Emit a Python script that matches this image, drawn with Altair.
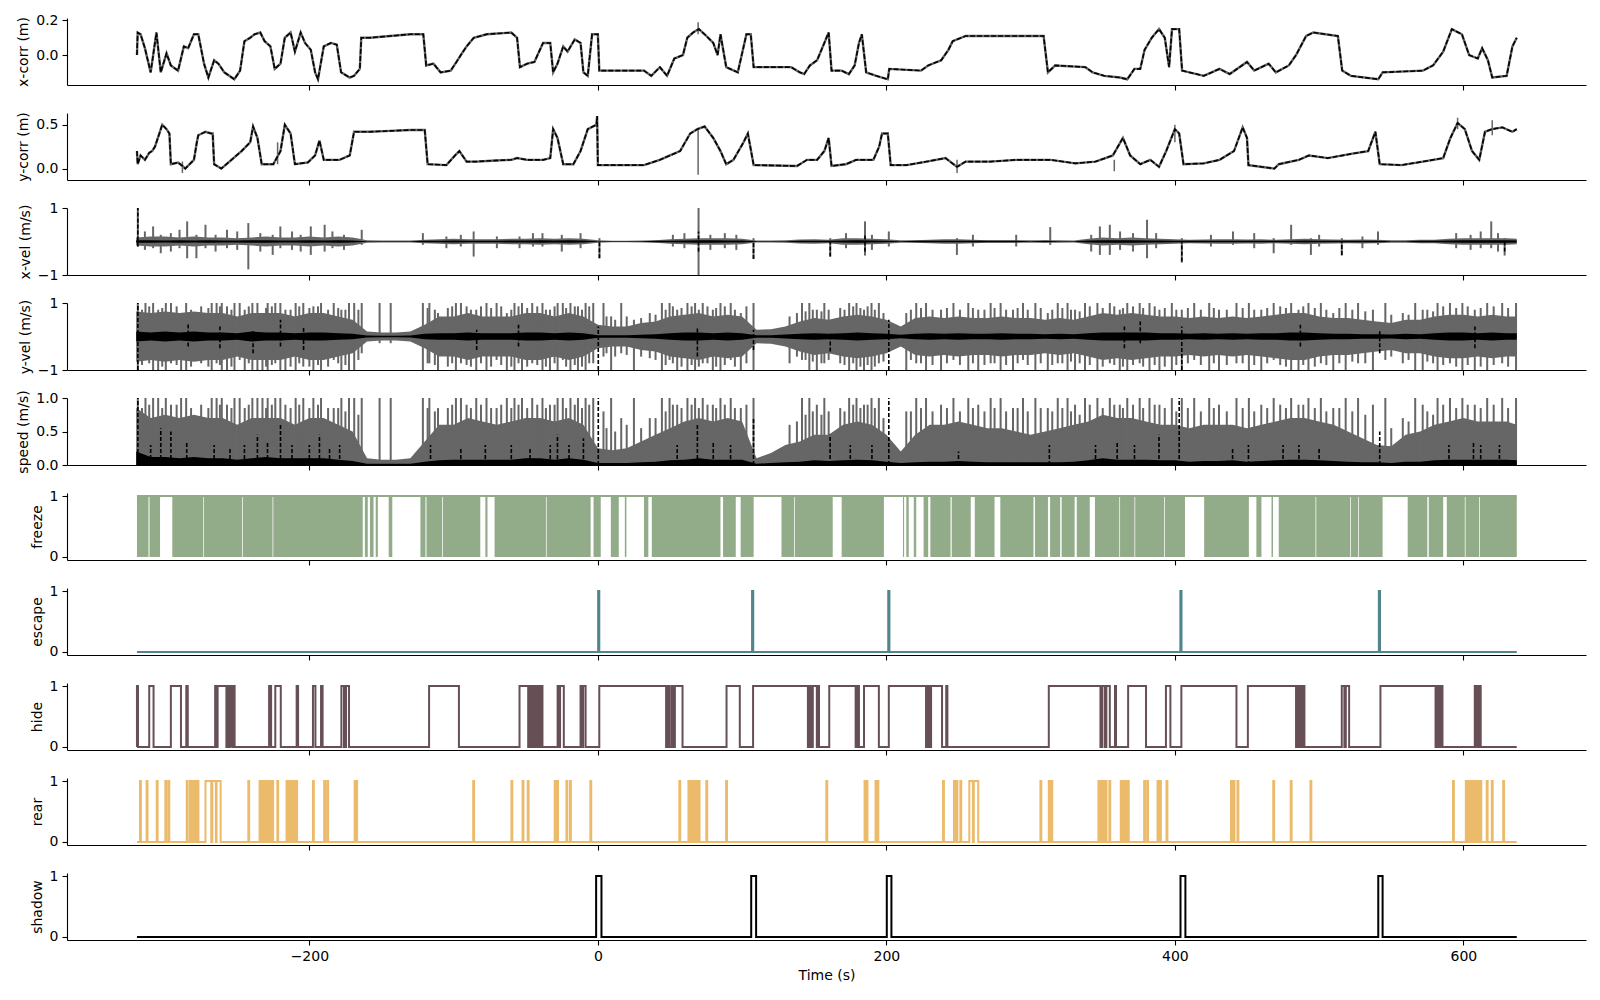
import altair as alt
import pandas as pd

GRAY = "#666666"
GREEN = "#92ab88"
TEAL = "#50868b"
MAUVE = "#665056"
ORANGE = "#ebba6a"

T_START, T_END = -319.5, 637
X_DOMAIN = [-368, 685]
X_TICKS = [-200, 0, 200, 400, 600]
BIN_DOMAIN = [-0.05, 1.05]
W, H = 1519, 67

# x position (m)
XC_T = [-319.5, -319, -317, -314, -310, -306, -303, -299, -296, -291, -287, -284, -280, -277,
        -273, -270, -266, -263, -259, -252, -248, -245, -241, -238, -234, -231, -227, -224,
        -220, -217, -213, -210, -206, -203, -199, -196, -194, -190, -185, -181, -178, -172,
        -169, -165, -164, -158, -144, -130, -121, -119, -114, -109, -102, -98, -95, -91, -86,
        -77, -60, -56, -54, -49, -44, -38, -33, -31, -28, -24, -21, -16, -12, -10, -7, -4, 0,
        1, 11, 32, 37, 43, 48, 53, 59, 62, 66, 70, 74, 80, 83, 85, 89, 97, 103, 106, 108, 134,
        140, 143, 147, 152, 155, 159, 160, 162, 169, 174, 178, 181, 183, 186, 193, 201, 202,
        224, 229, 238, 243, 246, 255, 283, 309, 312, 317, 338, 343, 351, 362, 367, 372, 376,
        379, 384, 389, 393, 396, 398, 403, 405, 420, 431, 438, 450, 455, 465, 470, 479, 484,
        491, 496, 513, 516, 522, 541, 544, 572, 579, 586, 592, 599, 604, 610, 613, 617, 620,
        630, 634, 637]
XC_V = [0.0, 0.13, 0.12, 0.04, -0.1, 0.13, -0.1, 0.01, -0.06, -0.09, 0.05, 0.04, 0.12, 0.12,
        -0.05, -0.13, -0.03, -0.05, -0.1, -0.14, -0.09, 0.08, 0.1, 0.12, 0.13, 0.08, 0.05, -0.08,
        -0.05, 0.1, 0.13, 0.02, 0.13, 0.07, 0.03, -0.1, -0.14, 0.05, 0.07, 0.06, -0.1, -0.13,
        -0.12, -0.08, 0.1, 0.1, 0.11, 0.12, 0.12, -0.06, -0.05, -0.1, -0.09, -0.04, 0.0, 0.05, 0.1,
        0.12, 0.13, 0.1, -0.07, -0.05, -0.04, 0.07, 0.07, -0.1, -0.05, 0.05, 0.02, 0.09, 0.07, -0.1, -0.12, 0.12, 0.12,
        -0.09, -0.09, -0.09, -0.12, -0.07, -0.12, -0.02, 0.0, 0.1, 0.13, 0.15, 0.12, 0.07, 0.0, 0.12, -0.07, -0.1, 0.12, 0.12, -0.07, -0.07,
        -0.1, -0.11, -0.06, -0.03, 0.03, 0.11, 0.13, -0.09, -0.09, -0.11, -0.06, 0.07, 0.12, -0.1, -0.12, -0.14, -0.08,
        -0.09, -0.06, -0.03, 0.03, 0.08, 0.11, 0.11, 0.11, -0.1, -0.06, -0.07, -0.1, -0.12, -0.13, -0.14, -0.08, -0.08,
        0.03, 0.1, 0.15, 0.1, -0.07, 0.15, 0.15, -0.09, -0.12, -0.08, -0.11, -0.04, -0.09, -0.05, -0.1, -0.06, 0.0,
        0.11, 0.13, 0.11, -0.09, -0.12, -0.14, -0.1, -0.09, -0.06, 0.02, 0.15, 0.12, 0.0, -0.02, 0.04, -0.03, -0.13,
        -0.12, 0.05, 0.1]
XC_SPIKES = [(69.5, 0.12, 0.19)]

# y position (m)
YC_T = [-319.5, -319, -317, -314, -311, -309, -307, -305, -303, -302, -299, -297, -296, -291,
        -288, -286, -283, -280, -278, -277, -272, -268, -267, -266, -261, -254, -247, -241,
        -239, -236, -233, -225, -220, -217, -213, -210, -201, -196, -193, -190, -179, -172,
        -169, -158, -144, -130, -120, -118, -105, -99, -96, -91, -84, -74, -60, -56, -49, -38,
        -33, -31, -28, -24, -17, -12, -7, -1, -0.5, 0, 11, 32, 43, 50, 57, 64, 69, 74, 80, 85,
        89, 94, 101, 104, 108, 138, 145, 152, 157, 160, 162, 172, 179, 191, 195, 197, 201, 203,
        214, 228, 241, 249, 255, 272, 290, 300, 314, 331, 345, 357, 364, 369, 376, 383, 389,
        394, 400, 403, 406, 420, 431, 441, 447, 450, 451, 469, 472, 486, 493, 506, 523, 534,
        539, 542, 557, 572, 586, 591, 596, 601, 606, 611, 615, 620, 627, 634, 637]
YC_V = [0.2, 0.05, 0.15, 0.1, 0.18, 0.2, 0.25, 0.35, 0.45, 0.5, 0.45, 0.4, 0.05, 0.07,
        0.03, 0.0, 0.05, 0.1, 0.3, 0.38, 0.42, 0.4, 0.4, 0.05, 0.0, 0.1, 0.2, 0.3,
        0.48, 0.35, 0.05, 0.05, 0.2, 0.5, 0.4, 0.05, 0.07, 0.15, 0.32, 0.1, 0.1, 0.15,
        0.42, 0.42, 0.43, 0.44, 0.44, 0.05, 0.04, 0.15, 0.2, 0.08, 0.08, 0.09, 0.1, 0.12, 0.1, 0.1,
        0.12, 0.45, 0.35, 0.05, 0.05, 0.2, 0.45, 0.5, 0.6, 0.04, 0.04, 0.04, 0.1, 0.15, 0.2, 0.4, 0.45, 0.48, 0.35, 0.2,
        0.05, 0.1, 0.3, 0.4, 0.04, 0.03, 0.1, 0.1, 0.2, 0.35, 0.03, 0.05, 0.1, 0.1, 0.25, 0.4, 0.4, 0.04,
        0.04, 0.08, 0.12, 0.02, 0.08, 0.08, 0.1, 0.1, 0.1, 0.06, 0.08, 0.15, 0.35, 0.15, 0.05, 0.1, 0.02,
        0.2, 0.45, 0.4, 0.05, 0.06, 0.1, 0.2, 0.47, 0.35, 0.04, 0.0, 0.05, 0.1, 0.15, 0.12, 0.17, 0.2,
        0.42, 0.05, 0.04, 0.08, 0.12, 0.35, 0.52, 0.45, 0.2, 0.1, 0.42, 0.45, 0.47, 0.42, 0.45]
YC_SPIKES = [(69.5, -0.07, 0.45), (249, -0.05, 0.1), (-222, 0.05, 0.3), (-288, -0.05, 0.08),
             (358, -0.03, 0.1), (400, 0.3, 0.5), (596, 0.45, 0.58), (620, 0.38, 0.55)]

# velocity / speed envelopes on a 10 s grid
T10 = list(range(-320, 640, 10)) + [637]
XV_GRAY = [0.12, 0.15, 0.15, 0.12, 0.15, 0.12, 0.12, 0.1, 0.12, 0.15, 0.12, 0.12, 0.15, 0.12, 0.15, 0.12,
           0.04, 0.03, 0.03, 0.03,
           0.05, 0.07, 0.08, 0.07, 0.07, 0.07, 0.08, 0.08, 0.1, 0.08, 0.1, 0.08,
           0.04, 0.02, 0.02, 0.03, 0.04,
           0.07, 0.08, 0.1, 0.1, 0.1, 0.08,
           0.03, 0.03, 0.04,
           0.06, 0.07, 0.05, 0.1, 0.1, 0.08, 0.07,
           0.04, 0.04, 0.05, 0.07, 0.07, 0.05, 0.04, 0.04, 0.04, 0.04, 0.04, 0.04, 0.03,
           0.08, 0.12, 0.1, 0.12, 0.1, 0.08, 0.07,
           0.05, 0.06, 0.07, 0.07, 0.06, 0.07, 0.05, 0.07, 0.08, 0.07, 0.06, 0.05, 0.06, 0.05,
           0.04, 0.04, 0.05, 0.05,
           0.08, 0.1, 0.1, 0.1, 0.1,
           0.08]
XV_BLACK = [0.04, 0.04, 0.03, 0.04, 0.03, 0.04, 0.03, 0.03, 0.04, 0.04, 0.03, 0.03, 0.04, 0.03, 0.04, 0.03,
            0.01, 0.01, 0.01, 0.01,
            0.02, 0.02, 0.03, 0.02, 0.02, 0.02, 0.03, 0.03, 0.04, 0.03, 0.04, 0.03,
            0.01, 0.01, 0.01, 0.01, 0.02,
            0.02, 0.03, 0.04, 0.04, 0.03, 0.03,
            0.01, 0.01, 0.01,
            0.02, 0.02, 0.02, 0.03, 0.04, 0.03, 0.02,
            0.01, 0.02, 0.02, 0.02, 0.02, 0.02, 0.02, 0.02, 0.02, 0.01, 0.02, 0.01, 0.01,
            0.03, 0.04, 0.04, 0.04, 0.03, 0.03, 0.02,
            0.02, 0.02, 0.02, 0.02, 0.02, 0.02, 0.02, 0.02, 0.03, 0.02, 0.02, 0.02, 0.02, 0.02,
            0.01, 0.01, 0.02, 0.02,
            0.03, 0.04, 0.04, 0.04, 0.04,
            0.03]
YV_GRAY = [0.75, 0.7, 0.75, 0.7, 0.75, 0.7, 0.7, 0.6, 0.7, 0.7, 0.7, 0.6, 0.7, 0.7, 0.6, 0.5,
           0.15, 0.12, 0.12, 0.15,
           0.35, 0.6, 0.6, 0.7, 0.6, 0.6, 0.6, 0.7, 0.7, 0.6, 0.7, 0.6,
           0.35, 0.3, 0.3, 0.4, 0.45,
           0.6, 0.65, 0.7, 0.6, 0.65, 0.6,
           0.2, 0.22, 0.3,
           0.45, 0.55, 0.5, 0.6, 0.65, 0.6, 0.5,
           0.3, 0.55, 0.6, 0.55, 0.6, 0.55, 0.55, 0.6, 0.55, 0.55, 0.5, 0.55, 0.5,
           0.6, 0.7, 0.65, 0.7, 0.65, 0.6, 0.6,
           0.55, 0.6, 0.55, 0.6, 0.55, 0.6, 0.65, 0.7, 0.7, 0.6, 0.55, 0.55, 0.5, 0.45,
           0.4, 0.5, 0.5, 0.6,
           0.65, 0.65, 0.6, 0.65, 0.6,
           0.6]
YV_BLACK = [0.15, 0.12, 0.15, 0.12, 0.15, 0.12, 0.12, 0.1, 0.15, 0.12, 0.12, 0.1, 0.12, 0.12, 0.1, 0.08,
            0.03, 0.02, 0.02, 0.03,
            0.08, 0.1, 0.1, 0.12, 0.1, 0.1, 0.1, 0.12, 0.12, 0.1, 0.12, 0.1,
            0.04, 0.04, 0.04, 0.05, 0.07,
            0.1, 0.12, 0.12, 0.1, 0.12, 0.1,
            0.04, 0.04, 0.06,
            0.08, 0.1, 0.08, 0.1, 0.12, 0.1, 0.08,
            0.05, 0.08, 0.1, 0.08, 0.1, 0.08, 0.08, 0.1, 0.08, 0.08, 0.07, 0.08, 0.07,
            0.1, 0.12, 0.12, 0.12, 0.12, 0.1, 0.1,
            0.08, 0.1, 0.08, 0.1, 0.08, 0.1, 0.1, 0.12, 0.12, 0.1, 0.08, 0.08, 0.07, 0.07,
            0.06, 0.08, 0.07, 0.1,
            0.12, 0.12, 0.1, 0.12, 0.1,
            0.1]
SP_GRAY = [0.85, 0.7, 0.75, 0.7, 0.75, 0.7, 0.7, 0.6, 0.7, 0.7, 0.7, 0.6, 0.7, 0.7, 0.6, 0.5,
           0.1, 0.08, 0.08, 0.1,
           0.35, 0.6, 0.6, 0.7, 0.65, 0.6, 0.65, 0.7, 0.7, 0.65, 0.7, 0.6,
           0.25, 0.22, 0.25, 0.35, 0.45,
           0.55, 0.65, 0.7, 0.65, 0.7, 0.65,
           0.1, 0.18, 0.3,
           0.35, 0.45, 0.45, 0.6, 0.65, 0.6, 0.45,
           0.2, 0.45, 0.6, 0.6, 0.65, 0.6, 0.55, 0.55, 0.5, 0.45, 0.5, 0.55, 0.6,
           0.65, 0.75, 0.7, 0.7, 0.65, 0.6, 0.6,
           0.55, 0.6, 0.6, 0.6, 0.55, 0.6, 0.65, 0.7, 0.7, 0.65, 0.6, 0.5, 0.4, 0.3,
           0.28, 0.45, 0.5, 0.6,
           0.65, 0.7, 0.65, 0.65, 0.65,
           0.6]
SP_BLACK = [0.2, 0.12, 0.12, 0.1, 0.12, 0.1, 0.1, 0.08, 0.1, 0.12, 0.1, 0.1, 0.1, 0.1, 0.08, 0.06,
            0.02, 0.02, 0.02, 0.02,
            0.05, 0.07, 0.08, 0.08, 0.08, 0.08, 0.08, 0.1, 0.1, 0.08, 0.1, 0.08,
            0.03, 0.03, 0.03, 0.04, 0.05,
            0.07, 0.08, 0.1, 0.08, 0.08, 0.08,
            0.02, 0.03, 0.04,
            0.05, 0.07, 0.06, 0.07, 0.08, 0.07, 0.05,
            0.03, 0.04, 0.05, 0.05, 0.06, 0.05, 0.04, 0.04, 0.04, 0.04, 0.04, 0.04, 0.05,
            0.07, 0.1, 0.08, 0.08, 0.08, 0.07, 0.07,
            0.05, 0.06, 0.06, 0.07, 0.05, 0.06, 0.07, 0.08, 0.08, 0.07, 0.06, 0.05, 0.04, 0.04,
            0.03, 0.05, 0.05, 0.07,
            0.08, 0.08, 0.08, 0.08, 0.08,
            0.07]

# single large excursions (t, low, high)
XV_SPIKES = [(-318.9, -0.15, 1.0), (-308.3, -0.2, 0.45), (-303, -0.35, 0.2), (-284.7, -0.5, 0.6),
             (-278.3, -0.5, 0.2), (-272, -0.2, 0.5), (-257.1, -0.2, 0.35), (-242.3, -0.83, 0.55),
             (-225.4, -0.4, 0.2), (-220.1, -0.2, 0.45), (-199, -0.4, 0.45), (-189.4, -0.3, 0.5),
             (-163.7, -0.1, 0.35), (-121.3, -0.1, 0.25), (-86.1, -0.45, 0.3), (-54.3, -0.2, 0.15),
             (-38.4, -0.15, 0.25), (1.1, -0.5, 0.1), (69.8, -1.0, 1.0), (107.9, -0.52, 0.1),
             (161.1, -0.45, 0.1), (185.2, -0.42, 0.6), (201.7, -0.15, 0.3), (248.9, -0.4, 0.1),
             (313.6, -0.1, 0.43), (348, -0.4, 0.45), (354.9, -0.4, 0.5), (380.7, -0.5, 0.65),
             (404.8, -0.63, 0.1), (440.3, -0.1, 0.3), (468.5, -0.35, 0.1), (480.6, -0.1, 0.5),
             (494.3, -0.4, 0.1), (515.7, -0.42, 0.1), (540.8, -0.1, 0.3), (619.3, -0.2, 0.6),
             (628.6, -0.42, 0.1),
             (-314, -0.25, 0.3), (-296, -0.3, 0.25), (-290, -0.2, 0.35), (-265, -0.3, 0.2),
             (-250, -0.25, 0.3), (-234, -0.3, 0.25), (-212, -0.25, 0.3), (-206, -0.3, 0.2),
             (-184, -0.2, 0.3), (-176, -0.25, 0.2), (-105, -0.2, 0.15), (-95, -0.15, 0.2),
             (-70, -0.2, 0.15), (-45, -0.15, 0.25), (-25, -0.3, 0.2), (-12, -0.2, 0.25),
             (52, -0.15, 0.2), (60, -0.2, 0.25), (78, -0.25, 0.2), (88, -0.2, 0.25), (96, -0.25, 0.2),
             (172, -0.2, 0.25), (190, -0.25, 0.2), (260, -0.15, 0.2), (290, -0.15, 0.2),
             (342, -0.3, 0.2), (362, -0.25, 0.3), (371, -0.3, 0.25), (387, -0.2, 0.25),
             (425, -0.15, 0.2), (455, -0.2, 0.25), (500, -0.15, 0.2), (530, -0.2, 0.15),
             (595, -0.2, 0.25), (605, -0.25, 0.2), (612, -0.2, 0.3), (624, -0.3, 0.25)]
XV_BLACK_SPIKES = [(-318.9, -0.15, 1.0), (1.1, -0.5, 0.0), (69.8, -0.3, 0.3), (107.9, -0.52, 0.0),
                   (161.1, -0.45, 0.0), (185.2, -0.3, 0.2), (404.8, -0.6, 0.0), (515.7, -0.4, 0.0),
                   (628.6, -0.3, 0.0)]
YV_SPIKES = [(-318.9, -1, 1), (-313.6, -0.7, 1), (-308.3, -1, 1), (-304.8, -1, 0.8), (-299.5, -1, 1),
             (-295.9, -0.8, 1), (-288.9, -1, 0.7), (-285.4, -1, 1), (-267.7, -1, 1), (-264.3, -0.8, 1),
             (-260.7, -1, 1), (-257.1, -1, 0.9), (-251.9, -1, 1), (-248.3, -0.7, 1), (-244.8, -1, 0.8),
             (-239.5, -1, 1), (-236, -1, 1), (-232.5, -1, 0.7), (-228.9, -1, 1), (-223.6, -0.8, 1),
             (-220.1, -1, 1), (-216.6, -1, 0.8), (-209.5, -1, 1), (-204.2, -0.9, 1), (-197.2, -1, 0.9),
             (-191.9, -1, 1), (-183.1, -0.7, 1), (-177.8, -1, 0.8), (-172.5, -1, 1), (-168.9, -1, 1),
             (-163.7, -0.5, 1), (-151.3, -0.2, 1), (-143.6, -0.2, 1), (-121.3, -1, 1), (-116.8, -0.8, 1),
             (-110.8, -1, 0.7), (-98.4, -1, 1), (-94.9, -0.8, 1), (-84.3, -1, 0.8), (-77.2, -1, 1),
             (-70.2, -0.7, 1), (-63.1, -1, 0.7), (-57.8, -1, 1), (-52.6, -1, 1), (-45.5, -0.8, 1),
             (-38.4, -1, 1), (-33.2, -1, 0.8), (-27.9, -1, 1), (-24.3, -0.7, 1), (-19, -1, 1),
             (-13.8, -1, 0.9), (-8.5, -1, 1), (-3.2, -0.8, 1), (3.9, -0.6, 1), (9.2, -1, 0.6),
             (16.2, -0.5, 1), (25, -1, 0.5), (44.4, -1, 1), (49.7, -0.7, 1), (55, -1, 0.8),
             (62.1, -1, 1), (67.4, -1, 1), (72.7, -0.8, 1), (79.7, -1, 0.8), (85, -1, 1),
             (92.1, -0.7, 1), (99.1, -1, 0.7), (107.9, -1, 1),
             (132.9, -0.8, 0.6), (141.5, -0.7, 1), (146.6, -1, 1), (151.8, -1, 0.8), (157, -0.8, 1),
             (174.2, -1, 1), (179.3, -1, 1), (184.5, -1, 0.8), (189.7, -1, 1), (194.8, -0.8, 1),
             (213.8, -1, 0.7), (220.7, -0.8, 1), (227.5, -1, 1), (237.9, -1, 0.8), (246.5, -0.7, 1),
             (256.8, -1, 1), (263.7, -1, 0.8), (272.3, -0.8, 1), (279.2, -1, 1), (287.8, -1, 0.8),
             (294.7, -0.7, 1), (303.3, -1, 1), (311.9, -1, 0.7), (318.8, -0.8, 1), (325.6, -1, 1),
             (330.8, -1, 0.8), (337.7, -1, 1), (346.3, -1, 1), (354.9, -0.8, 1), (361.8, -1, 0.8),
             (367, -1, 1), (375.6, -0.8, 1), (382.4, -1, 1), (389.3, -1, 0.8), (397.9, -1, 1),
             (404.8, -1, 0.8), (413.4, -0.7, 1), (423.8, -1, 1), (430.6, -1, 0.8), (442.7, -0.8, 1),
             (451.3, -1, 1), (459.9, -1, 0.8), (468.5, -0.7, 1), (480.6, -1, 1), (485.7, -1, 0.8),
             (492.6, -1, 1), (501.2, -0.8, 1), (509.8, -1, 0.7), (518.4, -1, 1), (527, -0.8, 1),
             (537.3, -1, 0.8), (545.9, -0.7, 1), (558, -0.8, 0.7), (566.6, -1, 1), (571.8, -1, 0.8),
             (582.1, -1, 1), (590.7, -0.8, 1), (599.3, -1, 1), (607.9, -1, 0.8), (616.5, -1, 1),
             (626.9, -0.8, 1), (636.5, -1, 1)]
# medium excursions between the large ones
YV_MID = [(-316, -0.85, 0.8), (-311, -0.8, 0.9), (-302, -0.9, 0.85), (-292, -0.85, 0.9),
          (-282, -0.9, 0.8), (-275, -0.8, 0.9), (-270, -0.9, 0.85), (-262, -0.85, 0.9),
          (-254, -0.9, 0.8), (-242, -0.8, 0.9), (-230, -0.9, 0.85), (-226, -0.85, 0.9),
          (-213, -0.9, 0.8), (-207, -0.8, 0.9), (-200, -0.9, 0.85), (-194, -0.85, 0.9),
          (-187, -0.9, 0.8), (-180, -0.8, 0.85), (-175, -0.85, 0.8), (-166, -0.7, 0.8),
          (-118, -0.8, 0.85), (-113, -0.85, 0.8), (-104, -0.9, 0.85), (-101, -0.8, 0.9),
          (-91, -0.85, 0.9), (-88, -0.9, 0.8), (-81, -0.8, 0.9), (-74, -0.9, 0.85),
          (-67, -0.85, 0.9), (-60, -0.9, 0.8), (-55, -0.8, 0.9), (-49, -0.9, 0.85),
          (-42, -0.85, 0.9), (-36, -0.9, 0.8), (-30, -0.8, 0.9), (-22, -0.9, 0.85),
          (-16, -0.85, 0.9), (-11, -0.9, 0.8), (-6, -0.8, 0.9), (6, -0.5, 0.6), (12, -0.6, 0.5),
          (20, -0.55, 0.6), (30, -0.6, 0.55), (36, -0.65, 0.7), (40, -0.7, 0.65), (47, -0.85, 0.8),
          (52, -0.8, 0.9), (58, -0.9, 0.85), (65, -0.85, 0.9), (70, -0.9, 0.8), (76, -0.8, 0.9),
          (82, -0.9, 0.85), (88, -0.85, 0.9), (95, -0.9, 0.8), (103, -0.8, 0.9),
          (138, -0.6, 0.7), (144, -0.7, 0.75), (149, -0.75, 0.8), (155, -0.8, 0.75),
          (160, -0.7, 0.8), (168, -0.8, 0.85), (171, -0.85, 0.8), (177, -0.8, 0.9),
          (182, -0.9, 0.85), (187, -0.85, 0.9), (192, -0.9, 0.8), (198, -0.75, 0.7),
          (217, -0.7, 0.8), (224, -0.8, 0.85), (232, -0.85, 0.8), (242, -0.8, 0.85),
          (251, -0.85, 0.8), (260, -0.8, 0.85), (268, -0.85, 0.8), (275, -0.8, 0.85),
          (283, -0.85, 0.8), (291, -0.8, 0.85), (298, -0.85, 0.8), (307, -0.8, 0.85),
          (315, -0.85, 0.8), (322, -0.8, 0.85), (328, -0.75, 0.8), (334, -0.8, 0.75),
          (341, -0.85, 0.9), (350, -0.9, 0.85), (358, -0.85, 0.9), (364, -0.9, 0.85),
          (371, -0.85, 0.9), (378, -0.9, 0.85), (386, -0.85, 0.9), (393, -0.9, 0.85),
          (401, -0.85, 0.8), (409, -0.8, 0.85), (418, -0.85, 0.8), (427, -0.8, 0.85),
          (436, -0.85, 0.8), (447, -0.8, 0.85), (455, -0.85, 0.8), (464, -0.8, 0.85),
          (473, -0.85, 0.9), (477, -0.9, 0.85), (489, -0.85, 0.9), (497, -0.9, 0.85),
          (505, -0.85, 0.8), (514, -0.8, 0.85), (523, -0.75, 0.8), (532, -0.8, 0.75),
          (550, -0.6, 0.65), (562, -0.7, 0.65), (575, -0.75, 0.8), (579, -0.8, 0.75),
          (586, -0.85, 0.9), (595, -0.9, 0.85), (603, -0.85, 0.9), (612, -0.9, 0.85),
          (621, -0.85, 0.9), (631, -0.9, 0.85)]
YV_BLACK_SPIKES = [(-318.9, -1, 1), (-284, -0.3, 0.4), (-239, -0.5, 0.2), (-220, -0.3, 0.5),
                   (-262, -0.35, 0.3), (-204, -0.4, 0.3), (-84, -0.4, 0.2), (-55, -0.3, 0.35),
                   (0.3, -1, 0.3), (69, -0.6, 0.3), (107.9, -0.4, 0.2), (161.1, -0.45, 0.1),
                   (201.7, -1, 0.5), (376, -0.2, 0.45), (404.8, -1, 0.3), (542, -0.5, 0.2),
                   (365, -0.35, 0.3), (487, -0.3, 0.35), (608, -0.35, 0.3)]
SP_SPIKES = [(-318.9, 1), (-313.6, 1), (-308.3, 1), (-304.8, 1), (-299.5, 1), (-295.9, 0.9),
             (-288.9, 1), (-285.4, 1), (-267.7, 1), (-264.3, 1), (-260.7, 1), (-257.1, 0.9),
             (-251.9, 1), (-248.3, 1), (-244.8, 0.85), (-239.5, 1), (-236, 1), (-232.5, 1),
             (-228.9, 1), (-223.6, 1), (-220.1, 1), (-216.6, 0.9), (-209.5, 1), (-204.2, 1),
             (-197.2, 1), (-191.9, 1), (-183.1, 0.85), (-177.8, 1), (-172.5, 1), (-168.9, 1),
             (-163.7, 1), (-151.3, 1), (-143.6, 1), (-121.3, 1), (-116.8, 1), (-110.8, 0.85),
             (-98.4, 1), (-94.9, 1), (-84.3, 1), (-77.2, 1), (-70.2, 0.85), (-63.1, 1),
             (-57.8, 1), (-52.6, 1), (-45.5, 1), (-38.4, 1), (-33.2, 0.9), (-27.9, 1),
             (-24.3, 1), (-19, 1), (-13.8, 1), (-8.5, 1), (-3.2, 1), (3.9, 0.8),
             (9.2, 1), (16.2, 0.7), (25, 1), (44.4, 1), (49.7, 1), (55, 0.9),
             (62.1, 1), (67.4, 1), (72.7, 1), (79.7, 0.9), (85, 1), (92.1, 1),
             (99.1, 0.85), (107.9, 1),
             (132.9, 0.6), (141.5, 1), (146.6, 1), (151.8, 0.9), (157, 1), (174.2, 1),
             (179.3, 1), (184.5, 0.9), (189.7, 1), (194.8, 1), (213.8, 0.8), (220.7, 1),
             (227.5, 1), (237.9, 0.9), (246.5, 1), (256.8, 1), (263.7, 0.9), (272.3, 1),
             (279.2, 1), (287.8, 0.85), (294.7, 1), (303.3, 1), (311.9, 0.85), (318.8, 1),
             (325.6, 1), (330.8, 0.9), (337.7, 1), (346.3, 1), (354.9, 1), (361.8, 0.9),
             (367, 1), (375.6, 1), (382.4, 1), (389.3, 0.9), (397.9, 1), (404.8, 1),
             (413.4, 1), (423.8, 1), (430.6, 0.9), (442.7, 1), (451.3, 1), (459.9, 0.9),
             (468.5, 1), (480.6, 1), (485.7, 0.9), (492.6, 1), (501.2, 1), (509.8, 0.85),
             (518.4, 1), (527, 1), (537.3, 0.9), (545.9, 1), (558, 0.7), (566.6, 1),
             (571.8, 0.9), (582.1, 1), (590.7, 1), (599.3, 1), (607.9, 0.9), (616.5, 1),
             (626.9, 1), (636.5, 1)]
SP_MID = [(-316, 0.85), (-311, 0.9), (-302, 0.85), (-292, 0.9), (-282, 0.85), (-275, 0.9),
          (-270, 0.85), (-262, 0.9), (-254, 0.85), (-242, 0.9), (-230, 0.85), (-226, 0.9),
          (-213, 0.85), (-207, 0.9), (-200, 0.85), (-194, 0.9), (-187, 0.85), (-180, 0.85),
          (-175, 0.8), (-166, 0.75), (-118, 0.85), (-113, 0.8), (-104, 0.85), (-101, 0.9),
          (-91, 0.9), (-88, 0.85), (-81, 0.9), (-74, 0.85), (-67, 0.9), (-60, 0.85),
          (-55, 0.9), (-49, 0.85), (-42, 0.9), (-36, 0.85), (-30, 0.9), (-22, 0.85),
          (-16, 0.9), (-11, 0.85), (-6, 0.9), (6, 0.55), (12, 0.5), (20, 0.6), (30, 0.55),
          (36, 0.7), (40, 0.7), (47, 0.8), (52, 0.9), (58, 0.85), (65, 0.9), (70, 0.85),
          (76, 0.9), (82, 0.85), (88, 0.9), (95, 0.85), (103, 0.9), (138, 0.65), (144, 0.75),
          (149, 0.8), (155, 0.75), (160, 0.8), (168, 0.85), (171, 0.8), (177, 0.9), (182, 0.85),
          (187, 0.9), (192, 0.85), (198, 0.7), (217, 0.8), (224, 0.85), (232, 0.8), (242, 0.85),
          (251, 0.8), (260, 0.85), (268, 0.8), (275, 0.85), (283, 0.8), (291, 0.85), (298, 0.8),
          (307, 0.85), (315, 0.8), (322, 0.85), (328, 0.8), (334, 0.75), (341, 0.9), (350, 0.85),
          (358, 0.9), (364, 0.85), (371, 0.9), (378, 0.85), (386, 0.9), (393, 0.85), (401, 0.8),
          (409, 0.85), (418, 0.8), (427, 0.85), (436, 0.8), (447, 0.85), (455, 0.8), (464, 0.85),
          (473, 0.9), (477, 0.85), (489, 0.9), (497, 0.85), (505, 0.8), (514, 0.85), (523, 0.8),
          (532, 0.75), (550, 0.55), (562, 0.65), (575, 0.8), (579, 0.75), (586, 0.9), (595, 0.85),
          (603, 0.9), (612, 0.85), (621, 0.9), (631, 0.85)]
SP_BLACK_SPIKES = [(-318.9, 1), (-303, 0.55), (-296, 0.5), (-266, 0.3), (-236, 0.45), (-229, 0.35),
                   (-220, 0.6), (-200, 0.3), (-193, 0.45), (-179, 0.3), (-116, 0.3), (-60, 0.3),
                   (-33, 0.3), (-28, 0.45), (-10, 0.4), (0.3, 1), (69, 0.6), (107.9, 0.7),
                   (161, 0.45), (201.7, 1), (313, 0.3), (389, 0.45), (403, 1), (451, 0.3),
                   (486, 0.3), (542, 0.5), (607, 0.35), (612, 0.3),
                   (-310, 0.3), (-285, 0.35), (-255, 0.25), (-245, 0.3), (-212, 0.3), (-186, 0.25),
                   (-95, 0.25), (-78, 0.3), (-47, 0.25), (-20, 0.3), (55, 0.3), (80, 0.35),
                   (92, 0.3), (175, 0.3), (190, 0.3), (250, 0.2), (345, 0.3), (360, 0.35),
                   (372, 0.3), (440, 0.25), (475, 0.3), (500, 0.25), (590, 0.3), (625, 0.3)]

# freeze: stretches where the trace is held at 1; rapid toggling elsewhere
FREEZE_HOLD = [(-311.5, -310.8), (-303.5, -295), (-273.5, -273), (-246.5, -246), (-225.5, -225),
               (-163, -161.5), (-159.5, -158), (-155.5, -154), (-152.5, -145), (-142.5, -123),
               (-119.5, -118.8), (-108, -107.5), (-81.5, -78), (-76.5, -71.6), (-36, -35.5),
               (-5, -3), (2, 9), (14.5, 18.7), (19.8, 32), (35, 37.4), (85, 86.8), (95.6, 99),
               (108, 127.3), (136, 136.5), (162.8, 169), (198.3, 211.5), (212.3, 213.8),
               (215.5, 219), (220.7, 225.8), (229, 230.5), (244.5, 245.3), (258.5, 261.3),
               (275, 279), (302, 303), (312, 313.5), (320.5, 321.5), (330.5, 332), (341, 344.6),
               (361.5, 362), (372, 372.5), (392.5, 393), (407, 420.3), (451.3, 456.5), (460, 467),
               (468, 472), (497.5, 498), (521.5, 522), (527, 527.5), (544, 561.4), (575, 576),
               (586, 588.5), (601, 601.5), (611, 611.5)]

ESCAPE_ON = [(0.2, 1.0), (106.9, 107.7), (201.3, 202.1), (403.8, 404.6), (541.4, 542.2)]

HIDE_ON = [(-319.5, -318.8), (-311, -308), (-296, -289), (-285.3, -284.3), (-265.3, -264.3),
           (-263.6, -257.5), (-257, -256.2), (-255.7, -255), (-254.7, -253.3), (-253, -251.8),
           (-227.9, -226.5), (-223.6, -219.8), (-208.8, -207.8), (-197.5, -195.8), (-191.9, -190.8),
           (-177.8, -176), (-174.6, -172.5), (-117, -96.3), (-54.3, -48.3), (-47.3, -46.5),
           (-46, -45.2), (-44.8, -44), (-43.5, -42.6), (-42.2, -41.2), (-40.8, -40), (-39.4, -38.4),
           (-27.9, -26.8), (-26.2, -23.6), (-12, -10.8), (-10.2, -8.5), (1, 47.3), (48.3, 49.7),
           (51.2, 52.6), (53.4, 58.7), (89.2, 98.4), (107.6, 145.6), (146, 146.6), (147, 147.7),
           (149, 151.8), (152.5, 153.3), (160.4, 178.7), (179.2, 179.8), (180.3, 181), (184.5, 194.8),
           (201.7, 227.5), (228.6, 229.8), (231, 238.6), (241.5, 242.3), (312.6, 348.4), (349.7, 351.5),
           (352.5, 354.9), (358.5, 359.2), (367.6, 380), (393.8, 396.9), (404.5, 442.7), (450.6, 484),
           (484.6, 485.3), (485.9, 486.6), (487.2, 488), (488.6, 489.8), (515.7, 517.5), (518.5, 520.8),
           (542.5, 580.7), (581.4, 582.5), (583.2, 584.2), (584.8, 585.5), (607.9, 608.8),
           (609.4, 610.2), (610.8, 612)]

REAR_ON = [(-317.4, -316.8), (-312.8, -312.2), (-305.8, -305.2), (-299.8, -299.2), (-297.7, -297.1),
           (-285, -284.4), (-282.8, -282.2), (-281.4, -280.8), (-279.7, -279.1), (-278.6, -278),
           (-277.5, -276.9), (-272, -268), (-267.3, -264.8), (-264.3, -261.5), (-242.3, -241.7),
           (-234.5, -233.9), (-232.8, -232.2), (-231, -230.4), (-229.2, -228.6), (-227.5, -226.9),
           (-225.7, -225.1), (-222.2, -221.6), (-215.8, -215), (-214.4, -213.6), (-213.2, -212.4),
           (-212.2, -211.4), (-210.9, -210.1), (-209.5, -208.5), (-197.5, -196.9), (-189.7, -189.1),
           (-187.6, -187), (-168.6, -168), (-167.5, -166.9), (-86.4, -85.8), (-59.9, -59.3),
           (-52.2, -51.6), (-48.6, -48), (-29.9, -29.3), (-28.2, -27.6), (-21.8, -21.2),
           (-19.3, -18.7), (-5.2, -4.6), (56.5, 57.1), (62.8, 63.4), (64.2, 64.8), (65.2, 65.8),
           (66.2, 66.8), (67.3, 67.9), (68.4, 69), (69.9, 70.5), (75.2, 75.8), (88.9, 89.5),
           (158.4, 159), (184.9, 185.5), (186.3, 186.9), (192.5, 193.1), (193.8, 194.4),
           (239.3, 239.9), (246.9, 247.5), (248.6, 249.2), (251.3, 251.9), (257.5, 260),
           (260.6, 263.7), (306.8, 307.4), (312.6, 313.2), (314.4, 315), (347, 347.6),
           (348.2, 348.8), (350, 350.6), (352, 352.6), (354.6, 355.2), (362.5, 363.1),
           (363.8, 364.4), (365, 365.6), (366.2, 366.8), (367.4, 368), (378.7, 379.3),
           (380.8, 381.4), (388, 388.6), (389.7, 390.3), (394.2, 394.8), (438.9, 439.5),
           (440.7, 441.3), (443.4, 444), (468.2, 468.8), (480.3, 480.9), (494, 494.6),
           (592.8, 593.4), (601.7, 602.3), (603.4, 604.2), (605.4, 606.4), (607.4, 608),
           (609.4, 610.2), (611.5, 612.4), (616.2, 616.8), (619.7, 620.3), (627.6, 628.2)]

SHADOW_ON = [(-1.2, 2.5), (106.3, 109.7), (200.3, 203.5), (403.9, 407.3), (541, 544)]


def x_enc(last=False):
    if last:
        axis = alt.Axis(values=X_TICKS, title="Time (s)")
    else:
        axis = alt.Axis(values=X_TICKS, labels=False, title="")
    return alt.X("t:Q", scale=alt.Scale(domain=X_DOMAIN, nice=False, zero=False), axis=axis)


def y_enc(field, title, domain, ticks, fmt):
    return alt.Y(field, scale=alt.Scale(domain=domain, nice=False, zero=False),
                 axis=alt.Axis(values=ticks, format=fmt, title=title))


def position_panel(t, v, spikes, title, domain, ticks):
    df = pd.DataFrame({"t": t, "v": v})
    sp = pd.DataFrame(spikes, columns=["t", "lo", "hi"])
    y = y_enc("v:Q", title, domain, ticks, ".1f")
    raw = alt.Chart(df).mark_line(color=GRAY, strokeWidth=2.4).encode(x=x_enc(), y=y)
    jumps = alt.Chart(sp).mark_rule(color=GRAY, strokeWidth=1.5).encode(
        x=x_enc(), y=y_enc("lo:Q", title, domain, ticks, ".1f"), y2="hi:Q")
    smooth = alt.Chart(df).mark_line(color="black", strokeWidth=1.6, strokeDash=[5, 2]).encode(
        x=x_enc(), y=y)
    return alt.layer(raw, jumps, smooth).properties(width=W, height=H)


def band_panel(title, domain, ticks, fmt, gray_lo, gray_hi, spikes, blk_lo, blk_hi, blk_spikes):
    band = pd.DataFrame({"t": T10, "lo": gray_lo, "hi": gray_hi})
    core = pd.DataFrame({"t": T10, "lo": blk_lo, "hi": blk_hi})
    sp = pd.DataFrame(spikes, columns=["t", "lo", "hi"])
    bsp = pd.DataFrame(blk_spikes, columns=["t", "lo", "hi"])
    y = y_enc("lo:Q", title, domain, ticks, fmt)
    layers = [
        alt.Chart(band).mark_area(color=GRAY, clip=True).encode(x=x_enc(), y=y, y2="hi:Q"),
        alt.Chart(sp).mark_rule(color=GRAY, strokeWidth=2, clip=True).encode(x=x_enc(), y=y, y2="hi:Q"),
        alt.Chart(core).mark_area(color="black", clip=True).encode(x=x_enc(), y=y, y2="hi:Q"),
        alt.Chart(bsp).mark_rule(color="black", strokeWidth=1.6, strokeDash=[4, 2], clip=True).encode(
            x=x_enc(), y=y, y2="hi:Q"),
    ]
    return alt.layer(*layers).properties(width=W, height=H)


def step_frame(intervals):
    ts, vs = [T_START], [0]
    for a, b in intervals:
        ts += [a, a, b, b]
        vs += [0, 1, 1, 0]
    ts.append(T_END)
    vs.append(0)
    return pd.DataFrame({"t": ts, "v": vs, "i": range(len(ts))})


def binary_panel(intervals, title, color, last=False):
    return alt.Chart(step_frame(intervals)).mark_line(color=color, strokeWidth=2).encode(
        x=x_enc(last), y=y_enc("v:Q", title, BIN_DOMAIN, [0, 1], "d"), order="i:Q"
    ).properties(width=W, height=H)


def freeze_panel():
    bursts, prev = [], T_START
    for a, b in FREEZE_HOLD:
        if a > prev:
            bursts.append((prev, a))
        prev = b
    bursts.append((prev, T_END))
    rects = pd.DataFrame(bursts, columns=["t", "t2"])
    rects["lo"], rects["hi"] = 0, 1
    held = pd.DataFrame({"t": [T_START, T_END], "v": [1, 1]})
    top = alt.Chart(held).mark_line(color=GREEN, strokeWidth=2).encode(
        x=x_enc(), y=y_enc("v:Q", "freeze", BIN_DOMAIN, [0, 1], "d"))
    dense = alt.Chart(rects).mark_rect(color=GREEN).encode(
        x=x_enc(), x2="t2:Q", y=y_enc("lo:Q", "freeze", BIN_DOMAIN, [0, 1], "d"), y2="hi:Q")
    return alt.layer(top, dense).properties(width=W, height=H)


def neg(vals):
    return [-a for a in vals]


zeros = [0] * len(T10)

panels = [
    position_panel(XC_T, XC_V, XC_SPIKES, "x-corr (m)", [-0.173, 0.214], [0.0, 0.2]),
    position_panel(YC_T, YC_V, YC_SPIKES, "y-corr (m)", [-0.13, 0.634], [0.0, 0.5]),
    band_panel("x-vel (m/s)", [-1, 1], [-1, 0, 1], "d", neg(XV_GRAY), XV_GRAY, XV_SPIKES,
               neg(XV_BLACK), XV_BLACK, XV_BLACK_SPIKES),
    band_panel("y-vel (m/s)", [-1, 1], [-1, 0, 1], "d", neg(YV_GRAY), YV_GRAY, YV_SPIKES + YV_MID,
               neg(YV_BLACK), YV_BLACK, YV_BLACK_SPIKES),
    band_panel("speed (m/s)", [0, 1], [0, 0.5, 1], ".1f", zeros, SP_GRAY,
               [(t, 0, h) for t, h in SP_SPIKES + SP_MID], zeros, SP_BLACK,
               [(t, 0, h) for t, h in SP_BLACK_SPIKES]),
    freeze_panel(),
    binary_panel(ESCAPE_ON, "escape", TEAL),
    binary_panel(HIDE_ON, "hide", MAUVE),
    binary_panel(REAR_ON, "rear", ORANGE),
    binary_panel(SHADOW_ON, "shadow", "black", last=True),
]

chart = alt.vconcat(*panels, spacing=28, bounds="flush").properties(
    padding={"left": 8, "top": 5, "right": 5, "bottom": 5}
).configure_view(strokeWidth=0).configure_axis(
    grid=False, domainColor="black", tickColor="black", labelColor="black", titleColor="black",
    labelFont="DejaVu Sans", titleFont="DejaVu Sans", labelFontSize=14, titleFontSize=14,
    titleFontWeight="normal", tickSize=5, labelPadding=4, titlePadding=5,
    domainWidth=1.1, tickWidth=1.1
)

chart.save("out.html", embed_options={"renderer": "svg", "actions": False})
